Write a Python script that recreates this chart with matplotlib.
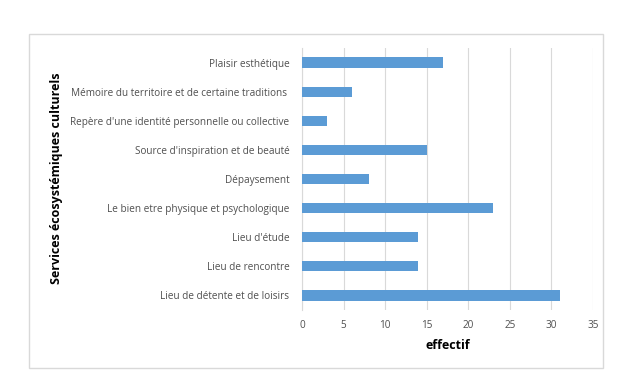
import matplotlib
matplotlib.use("Agg")
import matplotlib.pyplot as plt
from matplotlib.patches import Rectangle

categories = [
    "Lieu de détente et de loisirs",
    "Lieu de rencontre",
    "Lieu d'étude",
    "Le bien etre physique et psychologique",
    "Dépaysement",
    "Source d'inspiration et de beauté",
    "Repère d'une identité personnelle ou collective",
    "Mémoire du territoire et de certaine traditions ",
    "Plaisir esthétique",
]
values = [31, 14, 14, 23, 8, 15, 3, 6, 17]
xticks = [0, 5, 10, 15, 20, 25, 30, 35]

plt.rcParams['font.family'] = ['Open Sans', 'DejaVu Sans']

fig = plt.figure(figsize=(6.37, 3.85), dpi=100)
W, H = 637, 385
ax = fig.add_axes([302 / W, 1 - 310 / H, (593 - 302) / W, (310 - 48) / H])

# outer chart border
fig.patches.append(Rectangle((29 / W, 1 - 368 / H), (603 - 29) / W, (368 - 34) / H,
                             transform=fig.transFigure, fill=False,
                             edgecolor='#d9d9d9', linewidth=1))

y = range(len(categories))
ax.barh(y, values, height=0.35, color='#5b9bd5', zorder=3)
ax.set_xlim(0, 35)
ax.set_ylim(-0.5, len(categories) - 0.5)
ax.set_xticks(xticks)
ax.set_yticks(list(y))
ax.set_yticklabels(categories)
ax.grid(axis='x', color='#d9d9d9', linewidth=0.8, zorder=0)
for s in ['top', 'right', 'bottom']:
    ax.spines[s].set_visible(False)
ax.spines['left'].set_color('#d9d9d9')
ax.tick_params(axis='both', length=0, labelsize=7.2, colors='#505050', pad=7)
ax.tick_params(axis='y', pad=9)
ax.set_xlabel('effectif', fontsize=9, fontweight='bold', color='black', labelpad=6)
fig.text(57 / W, 1 - 178 / H, 'Services écosystémiques culturels', rotation=90,
         ha='center', va='center', fontsize=9, fontweight='bold', color='black')

fig.savefig('out.png', dpi=100)
